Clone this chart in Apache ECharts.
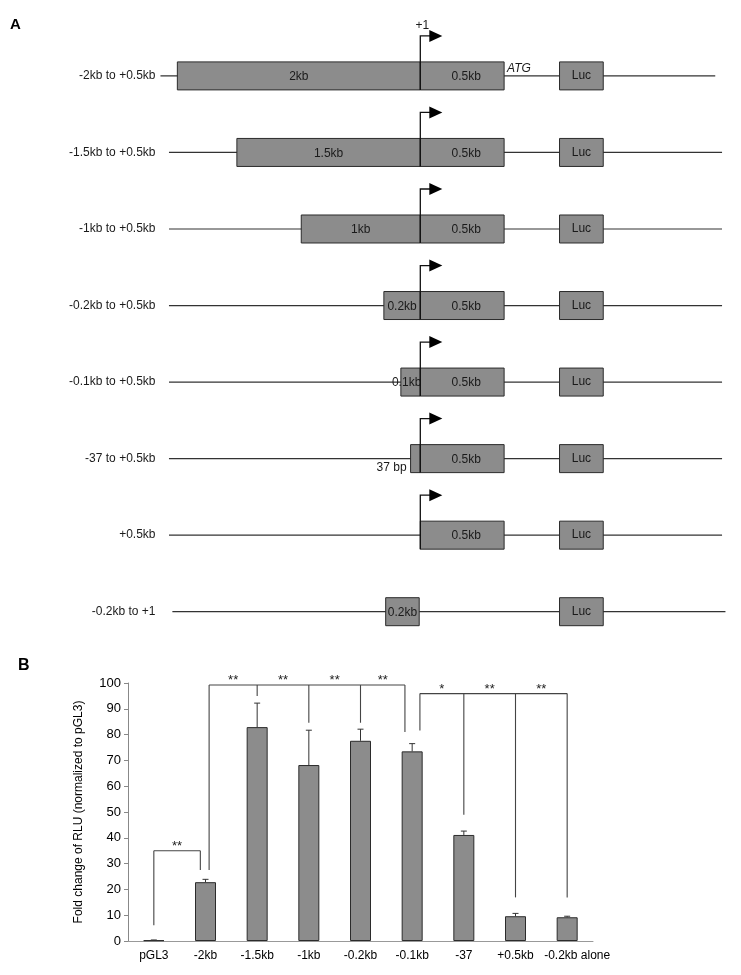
<!DOCTYPE html>
<html>
<head>
<meta charset="utf-8">
<script src="https://cdn.jsdelivr.net/npm/echarts@6/dist/echarts.min.js"></script>
<style>html,body{margin:0;padding:0;background:#fff}#c{width:741px;height:975px}</style>
</head>
<body>
<div id="c"></div>
<script>
// ---------- Panel A: construct schematic (schematic kb units, +1 at 0) ----------
const constructs = ['-2kb to +0.5kb', '-1.5kb to +0.5kb', '-1kb to +0.5kb', '-0.2kb to +0.5kb',
  '-0.1kb to +0.5kb', '-37 to +0.5kb', '+0.5kb', '-0.2kb to +1'];
const upstreamStart = [-2.0, -1.51, -0.98, -0.30, -0.16, -0.08, 0, -0.285];
const upstreamEnd   = [0, 0, 0, 0, 0, 0, 0, -0.009];
const upstreamText  = ['2kb', '1.5kb', '1kb', '0.2kb', '0.1kb', '37 bp', '', '0.2kb'];
const downstreamEnd = [0.69, 0.69, 0.69, 0.69, 0.69, 0.69, 0.69, 0];
const downstreamText = ['0.5kb', '0.5kb', '0.5kb', '0.5kb', '0.5kb', '0.5kb', '0.5kb', ''];
const hasTSS = [1, 1, 1, 1, 1, 1, 1, 0];
const lucStart = [1.146, 1.146, 1.146, 1.146, 1.146, 1.146, 1.146, 1.146];
const lucEnd   = [1.506, 1.506, 1.506, 1.506, 1.506, 1.506, 1.506, 1.506];
const backboneStart = [-2.139, -2.069, -2.069, -2.069, -2.069, -2.069, -2.069, -2.041];
const backboneEnd   = [2.428, 2.484, 2.484, 2.484, 2.484, 2.484, 2.484, 2.512];

// ---------- Panel B: luciferase assay ----------
const categories = ['pGL3', '-2kb', '-1.5kb', '-1kb', '-0.2kb', '-0.1kb', '-37', '+0.5kb', '-0.2kb alone'];
const foldChange = [0.3, 22.8, 82.9, 68.2, 77.6, 73.5, 41.1, 9.6, 9.2];
const errorUp    = [0.1, 1.1, 9.3, 13.5, 4.5, 3.0, 1.5, 1.1, 0.4];
const yTicks = [0, 10, 20, 30, 40, 50, 60, 70, 80, 90, 100];

// significance brackets: legs as [category position, leg bottom value]
const bracketTop = [35, 99.2, 95.9];
const bracketLegs = [
  [[0, 6.1], [0.9, 27.5]],
  [[1.07, 27.5], [2, 95], [3, 84.6], [4, 84.6], [4.86, 81]],
  [[5.15, 81.6], [6, 48.9], [7, 16.9], [8, 16.9]]
];
const bracketStars = [
  ['**'],
  ['**', '**', '**', '**'],
  ['*', '**', '**']
];

const F = '"Liberation Sans", Arial, Helvetica, sans-serif';
const BOX = '#8c8c8c', EDGE = '#2b2b2b';

function renderConstruct(params, api) {
  const i = api.value(1);
  const cy = api.coord([0, i])[1];
  const X = v => api.coord([v, i])[0];
  const h = 14;
  const kids = [];
  const lineStyle = { stroke: '#333', lineWidth: 1.2 };
  kids.push({ type: 'line', shape: { x1: X(backboneStart[i]), y1: cy, x2: X(backboneEnd[i]), y2: cy }, style: lineStyle });
  const rect = (a, b) => ({ type: 'rect', shape: { x: X(a), y: cy - h, width: X(b) - X(a), height: 2 * h },
    style: { fill: BOX, stroke: EDGE, lineWidth: 1 } });
  const txt = (t, x, y, align, extra) => ({ type: 'text', style: Object.assign({ text: t, x: x, y: y,
    align: align || 'center', verticalAlign: 'middle', fontSize: 12, fontFamily: F, fill: '#1a1a1a' }, extra || {}) });
  if (upstreamEnd[i] > upstreamStart[i]) kids.push(rect(upstreamStart[i], upstreamEnd[i]));
  if (downstreamEnd[i] > 0) kids.push(rect(0, downstreamEnd[i]));
  kids.push(rect(lucStart[i], lucEnd[i]));
  if (upstreamText[i]) {
    const w = X(upstreamEnd[i]) - X(upstreamStart[i]);
    if (w > 30) kids.push(txt(upstreamText[i], (X(upstreamStart[i]) + X(upstreamEnd[i])) / 2, cy + 1));
    else if (w > 15) kids.push(txt(upstreamText[i], X(upstreamEnd[i]) + 1, cy + 1, 'right'));
    else kids.push(txt(upstreamText[i], X(upstreamStart[i]) - 4, cy + 9, 'right'));
  }
  if (downstreamText[i]) kids.push(txt(downstreamText[i], (X(0) + X(downstreamEnd[i])) / 2 + 4, cy + 1));
  kids.push(txt('Luc', (X(lucStart[i]) + X(lucEnd[i])) / 2, cy));
  kids.push(txt(constructs[i], X(-2.18), cy, 'right'));
  if (hasTSS[i]) {
    const x0 = X(0);
    kids.push({ type: 'polyline', shape: { points: [[x0, cy + h], [x0, cy - 40], [x0 + 10, cy - 40]] },
      style: { stroke: '#111', lineWidth: 1.3, fill: null } });
    kids.push({ type: 'polygon', shape: { points: [[x0 + 9, cy - 46], [x0 + 22, cy - 40], [x0 + 9, cy - 34]] },
      style: { fill: '#000' } });
    if (i === 0) {
      kids.push(txt('+1', x0 + 2, cy - 50, 'center'));
      kids.push(txt('ATG', X(downstreamEnd[i]) + 3, cy - 1, 'left', { verticalAlign: 'bottom', fontStyle: 'italic' }));
    }
  }
  return { type: 'group', children: kids };
}

function renderError(params, api) {
  const i = api.value(0);
  const p0 = api.coord([i, api.value(1)]);
  const p1 = api.coord([i, api.value(1) + api.value(2)]);
  const st = { stroke: '#333', lineWidth: 1 };
  return { type: 'group', children: [
    { type: 'line', shape: { x1: p0[0], y1: p0[1], x2: p1[0], y2: p1[1] }, style: st },
    { type: 'line', shape: { x1: p1[0] - 3, y1: p1[1], x2: p1[0] + 3, y2: p1[1] }, style: st }
  ] };
}

function renderBracket(params, api) {
  const b = api.value(0);
  const band = api.size([1, 0])[0];
  const x0 = api.coord([0, 0])[0];
  const px = pos => x0 + pos * band;
  const py = v => api.coord([0, v])[1];
  const legs = bracketLegs[b];
  const yt = py(bracketTop[b]);
  const st = { stroke: '#444', lineWidth: 1.1, fill: null };
  const kids = [];
  kids.push({ type: 'line', shape: { x1: px(legs[0][0]), y1: yt, x2: px(legs[legs.length - 1][0]), y2: yt }, style: st });
  legs.forEach(l => kids.push({ type: 'line', shape: { x1: px(l[0]), y1: yt, x2: px(l[0]), y2: py(l[1]) }, style: st }));
  for (let k = 0; k < legs.length - 1; k++) {
    kids.push({ type: 'text', style: { text: bracketStars[b][k], x: (px(legs[k][0]) + px(legs[k + 1][0])) / 2, y: yt + 2,
      align: 'center', verticalAlign: 'bottom', fontSize: 13, fontFamily: F, fill: '#222' } });
  }
  return { type: 'group', children: kids };
}

const chart = echarts.init(document.getElementById('c'), null, { renderer: 'canvas' });
chart.setOption({
  animation: false,
  backgroundColor: '#fff',
  graphic: [
    { type: 'text', left: 10, top: 17, style: { text: 'A', fontSize: 15, fontWeight: 'bold', fontFamily: F, fill: '#000' } },
    { type: 'text', left: 18, top: 658, style: { text: 'B', fontSize: 16, fontWeight: 'bold', fontFamily: F, fill: '#000' } }
  ],
  grid: [
    { left: 0, right: 0, top: 75.9, height: 535.8 },
    { left: 128, right: 148, top: 683, height: 258 }
  ],
  xAxis: [
    { gridIndex: 0, type: 'value', min: -3.46, max: 2.64, show: false },
    { gridIndex: 1, type: 'category',
      data: categories.map((c, i) => i === categories.length - 1
        ? { value: c, textStyle: { padding: [0, 0, 0, 20] } } : c),
      axisLine: { lineStyle: { color: '#999', width: 1 } },
      axisTick: { length: 4, lineStyle: { color: '#999' } },
      axisLabel: { interval: 0, color: '#000', fontSize: 12, fontFamily: F, margin: 9 } }
  ],
  yAxis: [
    { gridIndex: 0, type: 'category', data: constructs, inverse: true, boundaryGap: false, show: false },
    { gridIndex: 1, type: 'value', min: yTicks[0], max: yTicks[yTicks.length - 1], interval: 10,
      axisLine: { show: true, lineStyle: { color: '#888' } },
      axisTick: { show: true, length: 4, lineStyle: { color: '#888' } },
      splitLine: { show: false },
      axisLabel: { color: '#000', fontSize: 13, fontFamily: F, margin: 7 },
      name: 'Fold change of RLU (normalized to pGL3)', nameLocation: 'middle', nameGap: 43,
      nameTextStyle: { color: '#000', fontSize: 12, fontFamily: F } }
  ],
  series: [
    { type: 'custom', xAxisIndex: 0, yAxisIndex: 0, renderItem: renderConstruct,
      data: constructs.map((c, i) => [0, i]), silent: true },
    { type: 'bar', xAxisIndex: 1, yAxisIndex: 1, data: foldChange, barWidth: 21,
      itemStyle: { color: BOX, borderColor: EDGE, borderWidth: 1 }, silent: true },
    { type: 'custom', xAxisIndex: 1, yAxisIndex: 1, renderItem: renderError, silent: true, z: 3,
      data: foldChange.map((v, i) => [i, v, errorUp[i]]) },
    { type: 'custom', xAxisIndex: 1, yAxisIndex: 1, renderItem: renderBracket, silent: true, z: 3,
      data: bracketTop.map((t, b) => [b, t]) }
  ]
});
</script>
</body>
</html>
